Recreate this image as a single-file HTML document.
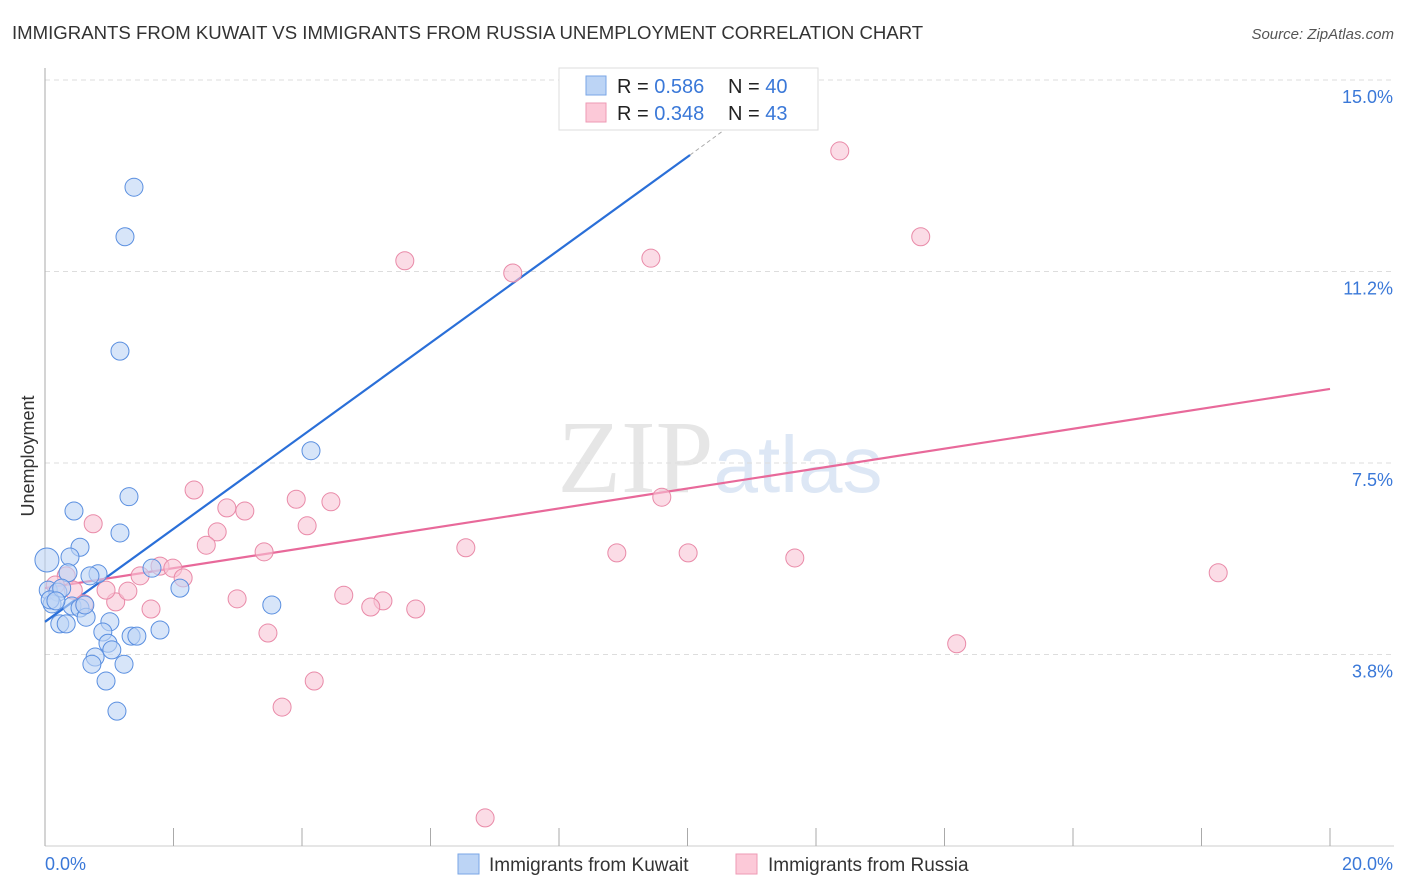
<!DOCTYPE html>
<html><head><meta charset="utf-8"><style>
body{margin:0;background:#fff;font-family:"Liberation Sans",sans-serif;}
svg{display:block}
</style></head><body>
<svg id="chart" width="1406" height="892">
<text x="12" y="39" font-size="18.6" fill="#333">IMMIGRANTS FROM KUWAIT VS IMMIGRANTS FROM RUSSIA UNEMPLOYMENT CORRELATION CHART</text>
<text x="1394" y="39" font-size="15" fill="#555" font-style="italic" text-anchor="end">Source: ZipAtlas.com</text>
<text x="720" y="492" font-size="104" fill="#e6e6e6" text-anchor="middle" font-family="Liberation Serif,serif">ZIP<tspan fill="#dde7f5" font-family="Liberation Sans,sans-serif" font-size="80">atlas</tspan></text>
<g id="grid"></g>
<g id="axes"></g>
<g id="lines"></g>
<g id="points"></g>
<text transform="translate(34,456) rotate(-90)" font-size="18" fill="#333" text-anchor="middle">Unemployment</text>
<g>
<rect x="559" y="68" width="259" height="62" fill="#fff" stroke="#ddd"/>
<rect x="586" y="76" width="20" height="19" fill="#bcd4f5" stroke="#7aa6e6"/>
<rect x="586" y="103" width="20" height="19" fill="#fcc9d8" stroke="#ee9ab4"/>
<text x="617" y="93" font-size="20" fill="#222">R = <tspan fill="#3a78d8">0.586</tspan></text>
<text x="728" y="93" font-size="20" fill="#222">N = <tspan fill="#3a78d8">40</tspan></text>
<text x="617" y="120" font-size="20" fill="#222">R = <tspan fill="#3a78d8">0.348</tspan></text>
<text x="728" y="120" font-size="20" fill="#222">N = <tspan fill="#3a78d8"> 43</tspan></text>
</g>
<g>
<rect x="458" y="854" width="21" height="20" fill="#bcd4f5" stroke="#7aa6e6"/>
<text x="489" y="871" font-size="19" fill="#333">Immigrants from Kuwait</text>
<rect x="736" y="854" width="21" height="20" fill="#fcc9d8" stroke="#ee9ab4"/>
<text x="768" y="871" font-size="19" fill="#333">Immigrants from Russia</text>
</g>
</svg>
<script>
const blueX=[1.385,1.245,1.167,4.14,1.307,0.451,1.167,0.545,0.389,0.03,0.358,0.825,0.70,1.665,2.10,0.05,0.20,0.11,0.42,0.545,0.64,1.01,3.53,0.23,0.33,0.90,1.79,1.34,1.43,0.98,1.04,0.78,0.73,1.23,0.95,1.12,0.08,0.26,0.62,0.17];
const blueY=[12.90,11.93,9.69,7.74,6.84,6.56,6.13,5.85,5.66,5.60,5.35,5.33,5.29,5.44,5.05,5.01,4.97,4.74,4.70,4.66,4.48,4.39,4.72,4.35,4.35,4.19,4.23,4.11,4.11,3.97,3.84,3.70,3.56,3.56,3.23,2.64,4.82,5.05,4.72,4.80];
const pinkX=[12.37,13.63,5.60,9.43,7.28,2.32,3.91,4.45,9.60,0.75,2.83,3.11,4.08,2.68,2.51,6.55,8.90,10.01,3.41,11.67,18.26,1.79,1.99,1.48,2.15,0.33,4.65,2.99,5.26,5.07,5.77,1.65,1.10,0.95,1.29,0.44,0.61,3.47,14.19,4.19,3.69,6.85,0.16];
const pinkY=[13.61,11.93,11.46,11.51,11.22,6.97,6.79,6.74,6.83,6.31,6.62,6.56,6.27,6.15,5.89,5.84,5.74,5.74,5.76,5.64,5.35,5.48,5.44,5.29,5.25,5.29,4.91,4.84,4.80,4.68,4.64,4.64,4.78,5.01,4.99,5.01,4.74,4.17,3.96,3.23,2.72,0.55,5.11];
const yTicks=[15,11.25,7.5,3.75];
const yTickLabels=["15.0%","11.2%","7.5%","3.8%"];
const xTicks=[0,2,4,6,8,10,12,14,16,18,20];
const blueLine=[0,4.39,10.04,13.53];
const blueDash=[10.04,13.53,11.2,14.6];
const pinkLine=[0,5.05,20,8.95];
const NS="http://www.w3.org/2000/svg";
const sx=v=>45+v/20*1285;
const sy=v=>846-v*51.07;
function mk(tag,attrs,parent){const e=document.createElementNS(NS,tag);for(const k in attrs)e.setAttribute(k,attrs[k]);document.getElementById(parent).appendChild(e);return e;}
yTicks.forEach((t,i)=>{
 const l=mk('line',{x1:45,x2:1394,y1:sy(t),y2:sy(t),stroke:'#ddd','stroke-dasharray':'5,4'},'grid');
 
 
 const tx=mk('text',{x:1393,y:sy(t)+23,'font-size':18,fill:'#3a78d8','text-anchor':'end'},'grid');
 tx.textContent=yTickLabels[i];
 
 
});
let a=mk('line',{x1:45,x2:45,y1:68,y2:846,stroke:'#aaa'},'axes');


a=mk('line',{x1:45,x2:1394,y1:846,y2:846,stroke:'#ccc'},'axes');


xTicks.forEach(t=>{
 const l=mk('line',{x1:sx(t),x2:sx(t),y1:828,y2:846,stroke:'#aaa'},'axes');
 
 
});
let t0=mk('text',{x:45,y:870,'font-size':18,fill:'#3a78d8'},'axes');t0.textContent='0.0%';


let t1=mk('text',{x:1393,y:870,'font-size':18,fill:'#3a78d8','text-anchor':'end'},'axes');t1.textContent='20.0%';


function dot(x,y,f,s,n){const c=mk('circle',{cx:sx(x),cy:sy(y),r:(x<0.1&&y>5.5)?12:9,fill:f,'fill-opacity':0.6,stroke:s,'stroke-width':1},'points');
 
 }
pinkX.forEach((x,i)=>dot(x,pinkY[i],'#f9c5d5','#e98aa8','russia-point'));
blueX.forEach((x,i)=>dot(x,blueY[i],'#bcd4f5','#5a8fe0','kuwait-point'));
let l=mk('line',{x1:sx(blueLine[0]),y1:sy(blueLine[1]),x2:sx(blueLine[2]),y2:sy(blueLine[3]),stroke:'#2a6fd8','stroke-width':2.2},'lines');


l=mk('line',{x1:sx(blueDash[0]),y1:sy(blueDash[1]),x2:sx(blueDash[2]),y2:sy(blueDash[3]),stroke:'#aaa','stroke-width':1,'stroke-dasharray':'4,3'},'lines');


l=mk('line',{x1:sx(pinkLine[0]),y1:sy(pinkLine[1]),x2:sx(pinkLine[2]),y2:sy(pinkLine[3]),stroke:'#e8699a','stroke-width':2.2},'lines');


</script>
</body></html>
